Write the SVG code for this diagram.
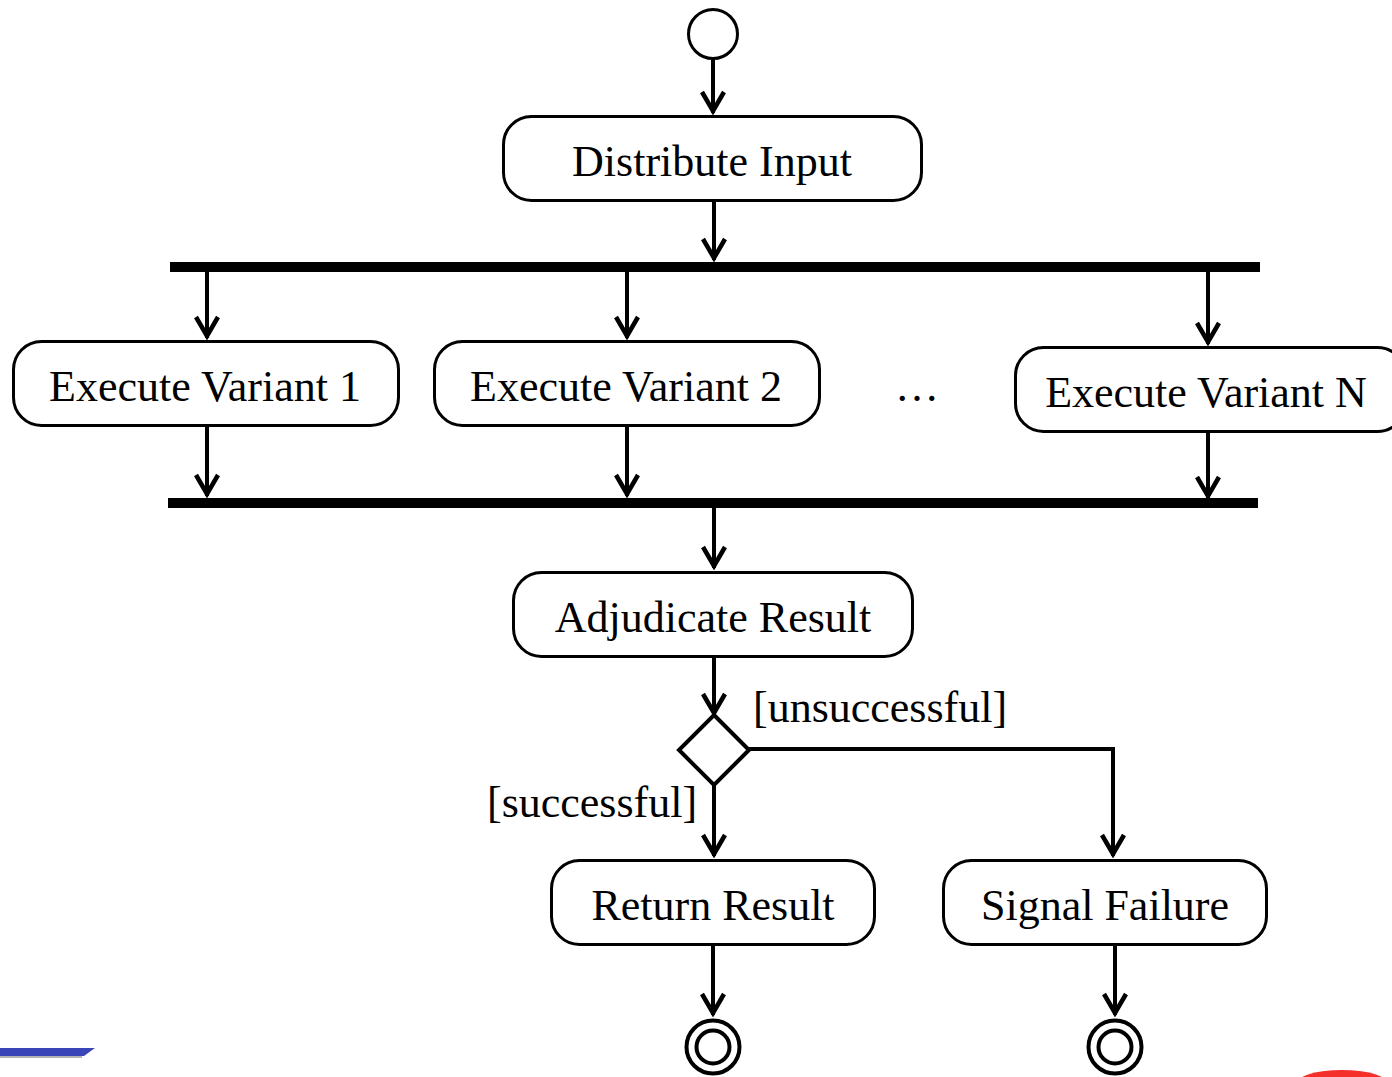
<svg xmlns="http://www.w3.org/2000/svg" width="1392" height="1077" viewBox="0 0 1392 1077">
<style>
.box{fill:#fff;stroke:#000;stroke-width:3}
.lbl{font-family:"Liberation Serif","Times New Roman",serif;font-size:44px;fill:#000;text-anchor:middle}
.glbl{font-family:"Liberation Serif","Times New Roman",serif;font-size:44px;fill:#000}
.edge{fill:none;stroke:#000;stroke-width:4}
.bar{fill:#000}
</style>
<defs>
<marker id="arrs" viewBox="-13 -24 26 26" refX="0" refY="0" markerWidth="26" markerHeight="26" markerUnits="userSpaceOnUse" orient="0">
<path d="M-11,-21 L0,-2 L11,-21" fill="none" stroke="#000" stroke-width="4.5"/>
</marker>
</defs>
<rect width="1392" height="1077" fill="#fff"/>
<g id="decor">
<rect x="0" y="1052" width="82" height="6" fill="#b3b3b3"/>
<polygon points="0,1048 95,1048 84,1056 0,1056" fill="#3a45b8"/>
<ellipse cx="1342" cy="1084" rx="46" ry="14" fill="#f5302a"/>
<ellipse cx="1345" cy="1086" rx="14" ry="8" fill="#fff"/>
</g>
<g id="connectors">
<path class="edge" d="M713,59 V113" marker-end="url(#arrs)"/>
<path class="edge" d="M714,200 V260" marker-end="url(#arrs)"/>
<path class="edge" d="M207,272 V338" marker-end="url(#arrs)"/>
<path class="edge" d="M627,272 V338" marker-end="url(#arrs)"/>
<path class="edge" d="M1208,272 V344" marker-end="url(#arrs)"/>
<path class="edge" d="M207,425 V496" marker-end="url(#arrs)"/>
<path class="edge" d="M627,425 V496" marker-end="url(#arrs)"/>
<path class="edge" d="M1208,431 V498" marker-end="url(#arrs)"/>
<path class="edge" d="M714,508 V568" marker-end="url(#arrs)"/>
<path class="edge" d="M714,656 V715" marker-end="url(#arrs)"/>
<path class="edge" d="M714,785 V856" marker-end="url(#arrs)"/>
<path class="edge" d="M749,749 H1113 V856" marker-end="url(#arrs)"/>
<path class="edge" d="M713,944 V1015" marker-end="url(#arrs)"/>
<path class="edge" d="M1115,944 V1015" marker-end="url(#arrs)"/>
<text class="glbl" x="753" y="722">[unsuccessful]</text>
<text class="glbl" x="487" y="817">[successful]</text>
</g>
<g id="start"><circle cx="713" cy="34" r="24.5" fill="#fff" stroke="#000" stroke-width="3"/></g>
<g id="distribute"><rect class="box" x="503.5" y="116.5" width="418" height="84" rx="28"/><text class="lbl" x="712" y="176">Distribute Input</text></g>
<g id="fork"><rect class="bar" x="170" y="262" width="1090" height="10"/></g>
<g id="variant1"><rect class="box" x="13.5" y="341.5" width="385" height="84" rx="28"/><text class="lbl" x="205" y="401">Execute Variant 1</text></g>
<g id="variant2"><rect class="box" x="434.5" y="341.5" width="385" height="84" rx="28"/><text class="lbl" x="626" y="401">Execute Variant 2</text></g>
<g id="ellipsis"><text class="lbl" x="917" y="401">…</text></g>
<g id="variantN"><rect class="box" x="1015.5" y="347.5" width="390" height="84" rx="28"/><text class="lbl" x="1206" y="407">Execute Variant N</text></g>
<g id="join"><rect class="bar" x="168" y="498" width="1090" height="10"/></g>
<g id="adjudicate"><rect class="box" x="513.5" y="572.5" width="399" height="84" rx="28"/><text class="lbl" x="713" y="632">Adjudicate Result</text></g>
<g id="decision"><polygon points="714,715 749,750 714,785 679,750" fill="#fff" stroke="#000" stroke-width="4"/></g>
<g id="return"><rect class="box" x="551.5" y="860.5" width="323" height="84" rx="28"/><text class="lbl" x="713" y="920">Return Result</text></g>
<g id="signal"><rect class="box" x="943.5" y="860.5" width="323" height="84" rx="28"/><text class="lbl" x="1105" y="920">Signal Failure</text></g>
<g id="end1"><circle cx="713" cy="1047" r="26.5" fill="#fff" stroke="#000" stroke-width="4"/><circle cx="713" cy="1047" r="16.5" fill="none" stroke="#000" stroke-width="4"/></g>
<g id="end2"><circle cx="1115" cy="1047" r="26.5" fill="#fff" stroke="#000" stroke-width="4"/><circle cx="1115" cy="1047" r="16.5" fill="none" stroke="#000" stroke-width="4"/></g>
</svg>
